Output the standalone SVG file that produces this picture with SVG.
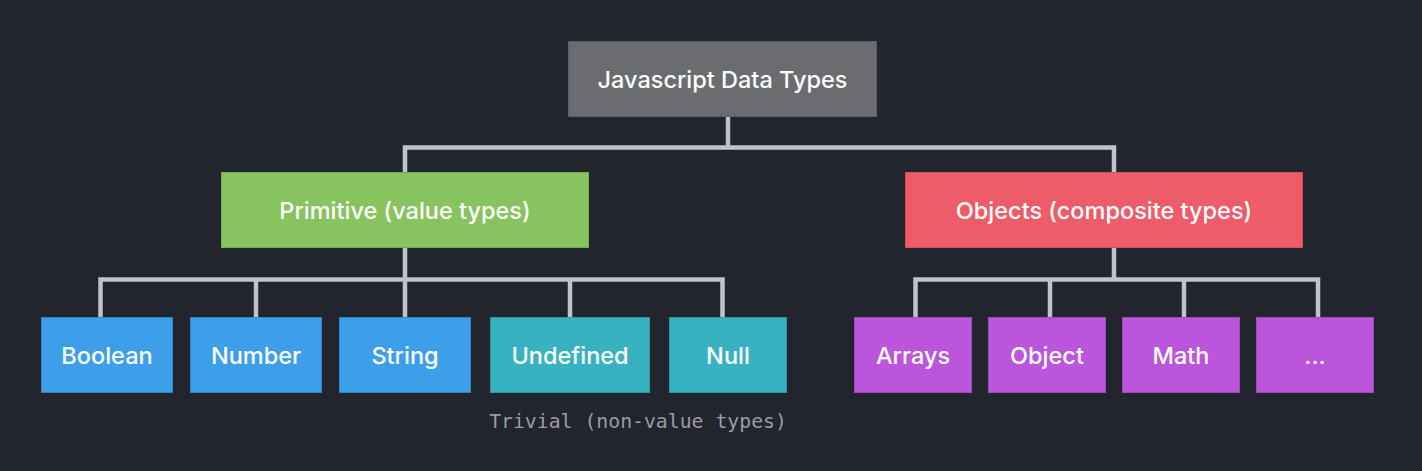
<svg xmlns="http://www.w3.org/2000/svg" width="1422" height="471" viewBox="0 0 1422 471">
<style>
.lbl{font-family:Inter,"Noto Sans","Liberation Sans",sans-serif;font-weight:500;font-size:23.5px;fill:#ffffff;text-anchor:middle;dominant-baseline:central}
.note{font-family:"DejaVu Sans Mono","Liberation Mono",monospace;font-size:19.8px;fill:#9a9ca2;text-anchor:middle}
.root{fill:#6b6c70;stroke:#5e5f63;stroke-width:1}
.prim{fill:#87c35e;stroke:#74ad4d;stroke-width:1}
.obj{fill:#ed5c68;stroke:#d44f5a;stroke-width:1}
.blue{fill:#3d9eea;stroke:#3585c4;stroke-width:1}
.teal{fill:#38b2c1;stroke:#2f98a5;stroke-width:1}
.purp{fill:#bb55dc;stroke:#a249bf;stroke-width:1}
.conn{fill:none;stroke:#c0c3ca;stroke-width:4.5}
</style>
<rect width="1422" height="471" fill="#22252e"/>
<g id="connectors">
<path class="conn" d="M728 117V147.5M405 172V147.5H1114V172"/>
<path class="conn" d="M405 248V279.5M100.5 317V279.5H722.5V317M256 279.5V317M405 279.5V317M570 279.5V317"/>
<path class="conn" d="M1114 248V279.5M915.5 317V279.5H1318V317M1050 279.5V317M1184 279.5V317"/>
</g>
<g id="root"><rect class="root" x="568.5" y="41.5" width="308" height="75"/><text class="lbl" x="722.5" y="79">Javascript Data Types</text></g>
<g id="primitive"><rect class="prim" x="221.5" y="172.5" width="367" height="75"/><text class="lbl" x="405" y="210">Primitive (value types)</text></g>
<g id="objects"><rect class="obj" x="905.5" y="172.5" width="397" height="75"/><text class="lbl" x="1104" y="210">Objects (composite types)</text></g>
<g id="boolean"><rect class="blue" x="41.5" y="317.5" width="131" height="75"/><text class="lbl" x="107" y="355">Boolean</text></g>
<g id="number"><rect class="blue" x="190.5" y="317.5" width="131" height="75"/><text class="lbl" x="256" y="355">Number</text></g>
<g id="string"><rect class="blue" x="339.5" y="317.5" width="131" height="75"/><text class="lbl" x="405" y="355">String</text></g>
<g id="undefined"><rect class="teal" x="490.5" y="317.5" width="159" height="75"/><text class="lbl" x="570" y="355">Undefined</text></g>
<g id="null"><rect class="teal" x="669.5" y="317.5" width="117" height="75"/><text class="lbl" x="728" y="355">Null</text></g>
<g id="arrays"><rect class="purp" x="854.5" y="317.5" width="117" height="75"/><text class="lbl" x="913" y="355">Arrays</text></g>
<g id="object"><rect class="purp" x="988.5" y="317.5" width="117" height="75"/><text class="lbl" x="1047" y="355">Object</text></g>
<g id="math"><rect class="purp" x="1122.5" y="317.5" width="117" height="75"/><text class="lbl" x="1181" y="355">Math</text></g>
<g id="more"><rect class="purp" x="1256.5" y="317.5" width="117" height="75"/><text class="lbl" x="1315" y="355">...</text></g>
<g id="trivial-note"><text class="note" x="638" y="428">Trivial (non-value types)</text></g>
</svg>
